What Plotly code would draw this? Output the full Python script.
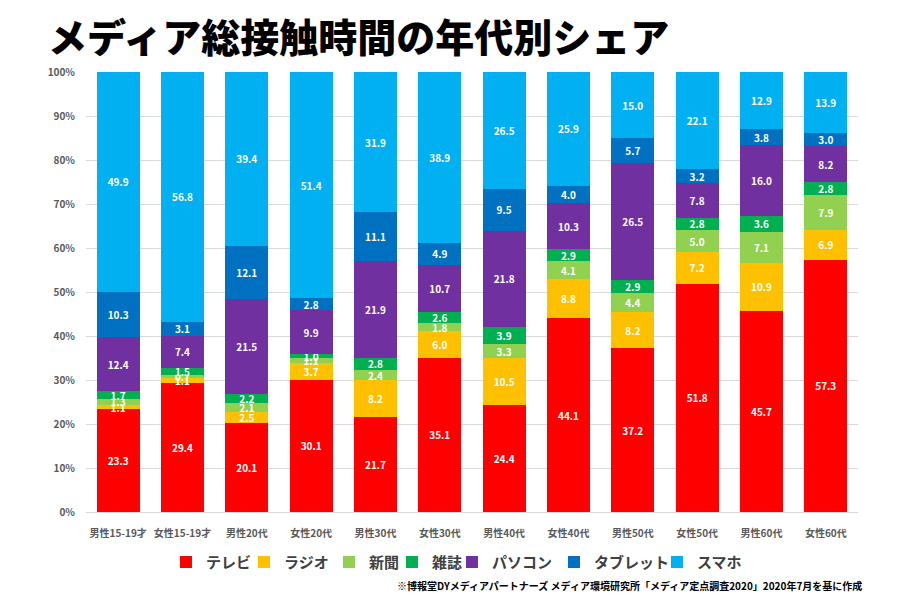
import plotly.graph_objects as go

categories = ["男性15-19才", "女性15-19才", "男性20代", "女性20代", "男性30代", "女性30代",
              "男性40代", "女性40代", "男性50代", "女性50代", "男性60代", "女性60代"]

tv       = [23.3, 29.4, 20.1, 30.1, 21.7, 35.1, 24.4, 44.1, 37.2, 51.8, 45.7, 57.3]
radio    = [1.1, 1.1, 2.5, 3.7, 8.2, 6.0, 10.5, 8.8, 8.2, 7.2, 10.9, 6.9]
paper    = [1.3, 0.7, 2.1, 1.1, 2.4, 1.8, 3.3, 4.1, 4.4, 5.0, 7.1, 7.9]
magazine = [1.7, 1.5, 2.2, 1.0, 2.8, 2.6, 3.9, 2.9, 2.9, 2.8, 3.6, 2.8]
pc       = [12.4, 7.4, 21.5, 9.9, 21.9, 10.7, 21.8, 10.3, 26.5, 7.8, 16.0, 8.2]
tablet   = [10.3, 3.1, 12.1, 2.8, 11.1, 4.9, 9.5, 4.0, 5.7, 3.2, 3.8, 3.0]
phone    = [49.9, 56.8, 39.4, 51.4, 31.9, 38.9, 26.5, 25.9, 15.0, 22.1, 12.9, 13.9]

series_names = ["テレビ", "ラジオ", "新聞", "雑誌", "パソコン", "タブレット", "スマホ"]
series_values = [tv, radio, paper, magazine, pc, tablet, phone]
colors = ["#FF0000", "#FFC000", "#92D050", "#00B050", "#7030A0", "#0070C0", "#00B0F0"]
legend_widths = [33, 40, 18, 15, 57, 58, 45]

FONT = "Noto Sans CJK JP"

fig = go.Figure()
for name, vals, col, lw in zip(series_names, series_values, colors, legend_widths):
    fig.add_trace(go.Bar(
        name=name, x=categories, y=vals,
        text=vals, texttemplate="%{text:.1f}",
        textposition="inside", insidetextanchor="middle", textangle=0,
        textfont=dict(color="white", size=10, family=FONT, weight="bold"),
        marker=dict(color=col, line=dict(width=0)),
        legendwidth=lw,
    ))

fig.update_layout(
    barmode="stack",
    barnorm="percent",
    bargap=0.33,
    width=900, height=600,
    margin=dict(l=78, r=50, t=64, b=96),
    plot_bgcolor="white", paper_bgcolor="white",
    font=dict(family=FONT),
    uniformtext=dict(minsize=10, mode="show"),
    title=dict(text="メディア総接触時間の年代別シェア",
               x=40/900, xanchor="left", xref="container",
               y=1-30/600, yanchor="middle", yref="container",
               font=dict(size=39, color="black", family=FONT, weight=900)),
    legend=dict(orientation="h", x=0.1036, xanchor="left", y=-0.114, yanchor="middle",
                font=dict(size=15, color="#404040", family=FONT, weight="bold"),
                traceorder="normal"),
    showlegend=True,
)
fig.update_xaxes(tickfont=dict(size=10, color="#595959", family=FONT, weight="bold"),
                 showgrid=False, showline=True, linecolor="#D9D9D9", linewidth=1,
                 ticks="", tickangle=0, ticklabelstandoff=12)
fig.update_yaxes(range=[0, 100], dtick=10, ticksuffix="%",
                 tickfont=dict(size=10, color="#595959", family=FONT, weight="bold"),
                 showgrid=True, gridcolor="#D9D9D9", gridwidth=1,
                 zeroline=False, showline=False, ticklabelstandoff=10)

fig.add_annotation(text="※博報堂DYメディアパートナーズ メディア環境研究所「メディア定点調査2020」2020年7月を基に作成",
                   xref="paper", yref="paper", x=1.008, xanchor="right", y=-0.166, yanchor="middle",
                   showarrow=False, font=dict(size=10, color="black", family=FONT, weight="bold"))

fig.write_html("out.html")
